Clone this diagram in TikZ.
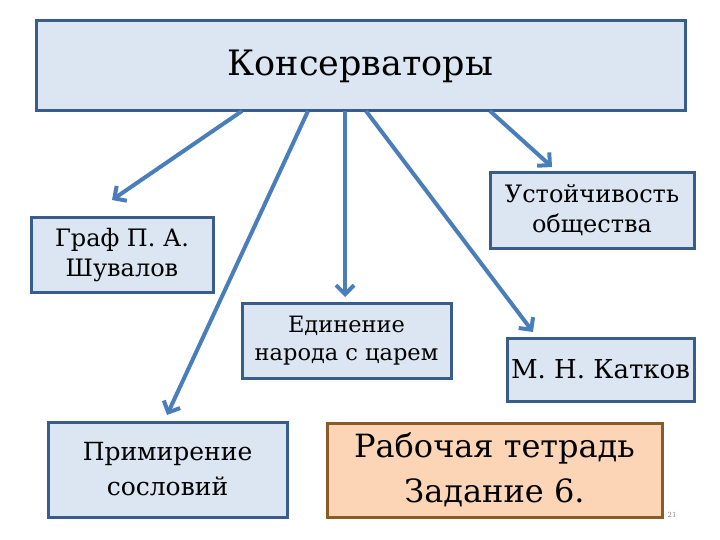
\documentclass[tikz,border=0pt]{standalone}
\usepackage{fontspec}
\setmainfont{DejaVu Serif}
\usetikzlibrary{positioning}
\usetikzlibrary{arrows.meta}
\definecolor{boxfill}{HTML}{DCE6F2}
\definecolor{boxline}{HTML}{385D8A}
\definecolor{arrowblue}{HTML}{4A7EBB}
\definecolor{taskfill}{HTML}{FBD5B5}
\definecolor{taskline}{HTML}{8C5A26}
\tikzset{
	idea/.style={draw=boxline, fill=boxfill, rectangle, line width=3pt, inner sep=2pt, align=center},
	task/.style={draw=taskline, fill=taskfill, rectangle, line width=3pt, inner sep=2pt, align=center},
	% small page number right bottom
	pagenum/.style={text=black!45, font=\fontsize{7}{8}\selectfont}
}
\begin{document}
\begin{tikzpicture}[x=1pt, y=-1pt]
			\useasboundingbox (0,0) rectangle (720,540);
			\node (cons) [idea, minimum width=649pt, minimum height=90pt, font=\fontsize{35}{42}\selectfont] at (360.5,66) {Консерваторы};
			
			\node (graf) [idea, minimum width=182pt, minimum height=74pt, font=\fontsize{24}{30}\selectfont] at (122,255) {Граф П. А.\\Шувалов};
			\node (ust) [idea, minimum width=204pt, minimum height=75pt, font=\fontsize{24}{30}\selectfont] at (592,210.5) {Устойчивость\\общества};
			\node (edin) [idea, minimum width=209pt, minimum height=75pt, font=\fontsize{22.5}{28}\selectfont] at (346.5,340.5) {Единение\\народа с царем};
			\node (katk) [idea, minimum width=187pt, minimum height=63pt, font=\fontsize{26}{32}\selectfont] at (600.5,369.5) {М. Н. Катков};
			\node (prim) [idea, minimum width=239pt, minimum height=95pt, font=\fontsize{25}{35}\selectfont] at (167.5,469.5) {Примирение\\сословий};
			
			\node (tetr) [task, minimum width=335pt, minimum height=94pt, font=\fontsize{32}{45}\selectfont] at (494.5,470) {Рабочая тетрадь\\Задание 6.};
			\node (num) [pagenum] at (672,515) {21};
			
			% starts on the top box, free tips above the boxes
			\coordinate (s1) at (242,111);
			\coordinate (s2) at (308,111);
			\coordinate (s3) at (345,111);
			\coordinate (s4) at (366,111);
			\coordinate (s5) at (490,111);
			\coordinate (t1) at (112,200);
			\coordinate (t2) at (167,415);
			\coordinate (t3) at (345,297);
			\coordinate (t4) at (533,332);
			\coordinate (t5) at (552,167);
			
			\begin{scope}[line width=4pt, arrowblue, -{Straight Barb[length=9pt, width=18pt]}]
				\draw (s1) -- (t1);
				\draw (s2) -- (t2);
				\draw (s3) -- (t3);
				\draw (s4) -- (t4);
				\draw (s5) -- (t5);
			\end{scope}
		\end{tikzpicture}
\end{document}
